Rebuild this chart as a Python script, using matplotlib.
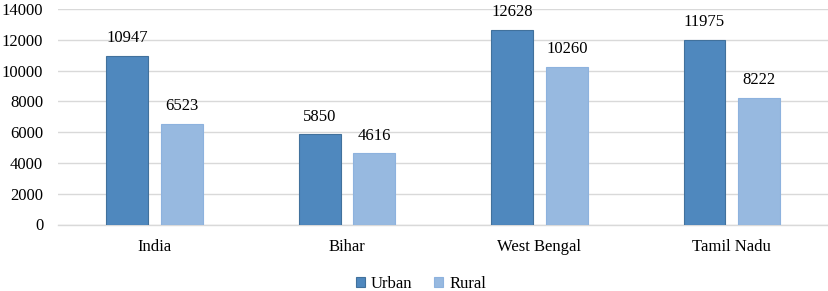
import numpy as np
import matplotlib.pyplot as plt

states = ['India', 'Bihar', 'West Bengal', 'Tamil Nadu']
urban = [10947, 5850, 12628, 11975]
rural = [6523, 4616, 10260, 8222]
yticks = [0, 2000, 4000, 6000, 8000, 10000, 12000, 14000]

plt.rcParams['font.family'] = ['Liberation Serif', 'DejaVu Serif']
fs = 12

fig = plt.figure(figsize=(8.29, 2.91), dpi=100)
ax = fig.add_axes([58.5 / 829, 1 - 224.5 / 291, (828 - 58.5) / 829, (224.5 - 9) / 291])

x = np.arange(len(states))
w = 0.218
off = 0.142
b1 = ax.bar(x - off, urban, w, color='#4F88BE', edgecolor='#41719C', linewidth=0.8, label='Urban', zorder=3)
b2 = ax.bar(x + off, rural, w, color='#97B9E0', edgecolor='#8DB2DE', linewidth=0.8, label='Rural', zorder=3)

for bars in (b1, b2):
    for b in bars:
        ax.annotate(f'{int(b.get_height())}', (b.get_x() + b.get_width() / 2, b.get_height()),
                    xytext=(0, 7), textcoords='offset points', ha='center', va='bottom', fontsize=fs)

ax.set_xlim(-0.5, 3.5)
ax.set_ylim(0, 14000)
ax.set_yticks(yticks)
ax.set_xticks(x)
ax.set_xticklabels(states)
ax.tick_params(axis='both', length=0, labelsize=fs)
ax.tick_params(axis='y', pad=11)
ax.tick_params(axis='x', pad=10.5)
ax.yaxis.grid(True, color='#D9D9D9', linewidth=1, zorder=0)
for s in ['top', 'right', 'left']:
    ax.spines[s].set_visible(False)
ax.spines['bottom'].set_color('#D9D9D9')
ax.spines['bottom'].set_linewidth(1)

fig.legend(loc='center', bbox_to_anchor=(421 / 829, 1 - 284 / 291), ncol=2, frameon=False,
           fontsize=fs, handlelength=0.55, handleheight=0.55, handletextpad=0.35, columnspacing=1.3)

fig.savefig('out.png', dpi=100)
